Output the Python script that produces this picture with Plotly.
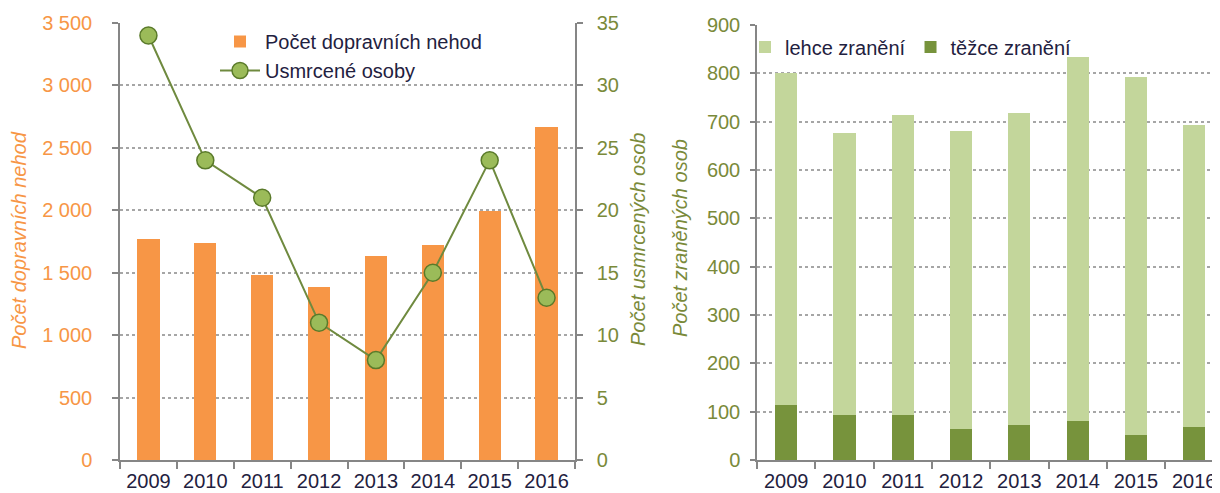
import plotly.graph_objects as go

years = ["2009", "2010", "2011", "2012", "2013", "2014", "2015", "2016"]
nehody = [1770, 1740, 1480, 1385, 1630, 1720, 1995, 2665]
usmrceni = [34, 24, 21, 11, 8, 15, 24, 13]
lehce = [686, 583, 621, 617, 645, 752, 740, 624]
tezce = [114, 93, 93, 64, 72, 81, 52, 69]

left_tickvals = [0, 500, 1000, 1500, 2000, 2500, 3000, 3500]
left_ticktext = ["0", "500", "1 000", "1 500", "2 000", "2 500", "3 000", "3 500"]
right_tickvals = [0, 5, 10, 15, 20, 25, 30, 35]
inj_tickvals = [0, 100, 200, 300, 400, 500, 600, 700, 800, 900]

# page body has an 8px margin: the figure occupies screen x 8..1220, y 8..493
OFF = 8
W, H = 1220 - OFF, 493 - OFF
FONT = "Liberation Sans, Arial, sans-serif"
ORANGE = "#F79646"
OLIVE_TXT = "#7A8A3A"
DARK_TXT = "#1F2140"
AXIS = "#868686"
GRID = "#A6A6A6"


def px_x(v):
    return (v - OFF) / W


def px_y(v):
    return (493 - v) / H


fig = go.Figure()

fig.add_trace(go.Bar(
    x=years, y=nehody, name="Počet dopravních nehod",
    marker=dict(color=ORANGE, line=dict(width=0)), width=0.39,
    xaxis="x", yaxis="y", legend="legend", legendrank=1,
))
fig.add_trace(go.Scatter(
    x=years, y=usmrceni, name="Usmrcené osoby", mode="lines+markers",
    line=dict(color="#6F8A3F", width=2),
    marker=dict(size=17, color="#9BBB59", line=dict(color="#5A7A2A", width=1.5)),
    xaxis="x", yaxis="y2", legend="legend", legendrank=2,
))
fig.add_trace(go.Bar(
    x=years, y=tezce, name="těžce zranění",
    marker=dict(color="#77933C", line=dict(width=0)), width=0.38,
    xaxis="x2", yaxis="y3", legend="legend2", legendrank=2,
))
fig.add_trace(go.Bar(
    x=years, y=lehce, name="lehce zranění",
    marker=dict(color="#C3D69B", line=dict(width=0)), width=0.38,
    xaxis="x2", yaxis="y3", legend="legend2", legendrank=1,
))

ydom1 = [px_y(460), px_y(23)]
ydom3 = [px_y(460), px_y(25)]

xcommon = dict(
    type="category", showline=True, linecolor=AXIS, linewidth=1.5,
    ticks="outside", tickson="boundaries", ticklen=7, tickcolor=AXIS, tickwidth=1.5,
    tickfont=dict(family=FONT, size=20, color=DARK_TXT), showgrid=False,
    zeroline=False, fixedrange=True, automargin=False, ticklabelstandoff=2,
)

R_START = 757
CAT_W = 58.3

fig.update_layout(
    width=W, height=H,
    margin=dict(l=0, r=0, t=0, b=0, pad=0, autoexpand=False),
    paper_bgcolor="white", plot_bgcolor="white",
    barmode="stack", bargap=0.6,
    font=dict(family=FONT, size=20, color=DARK_TXT),
    xaxis=dict(domain=[px_x(120), px_x(575)], range=[-0.5, 7.5], anchor="y", **xcommon),
    yaxis=dict(
        domain=ydom1, range=[0, 3500], anchor="x",
        tickvals=left_tickvals, ticktext=left_ticktext,
        tickfont=dict(family=FONT, size=20, color=ORANGE),
        showline=True, linecolor=AXIS, linewidth=1.5,
        ticks="outside", ticklen=6, tickcolor=AXIS, tickwidth=1.5,
        ticklabelstandoff=16, automargin=False,
        showgrid=True, gridcolor=GRID, griddash="dot", gridwidth=1.5,
        zeroline=False,
    ),
    yaxis2=dict(
        domain=ydom1, range=[0, 35], overlaying="y", side="right", anchor="x",
        tickvals=right_tickvals,
        tickfont=dict(family=FONT, size=20, color=OLIVE_TXT),
        showline=True, linecolor=AXIS, linewidth=1.5,
        ticks="outside", ticklen=6, tickcolor=AXIS, tickwidth=1.5,
        ticklabelstandoff=10, automargin=False,
        showgrid=False, zeroline=False,
    ),
    xaxis2=dict(domain=[px_x(R_START), 1.0], range=[-0.5, -0.5 + (1220 - R_START) / CAT_W],
                anchor="y3", **xcommon),
    yaxis3=dict(
        domain=ydom3, range=[0, 900], anchor="x2",
        tickvals=inj_tickvals,
        tickfont=dict(family=FONT, size=20, color=OLIVE_TXT),
        showline=True, linecolor=AXIS, linewidth=1.5,
        ticks="outside", ticklen=5, tickcolor=AXIS, tickwidth=1.5,
        ticklabelstandoff=6, automargin=False,
        showgrid=True, gridcolor=GRID, griddash="dot", gridwidth=1.5,
        zeroline=False,
    ),
    legend=dict(
        x=px_x(215), y=px_y(22), xanchor="left", yanchor="top",
        bgcolor="rgba(0,0,0,0)", font=dict(family=FONT, size=20, color=DARK_TXT),
        tracegroupgap=0, itemwidth=40, orientation="v", traceorder="normal",
    ),
    legend2=dict(
        x=px_x(745), y=px_y(47), xanchor="left", yanchor="middle",
        bgcolor="rgba(0,0,0,0)", font=dict(family=FONT, size=20, color=DARK_TXT),
        orientation="h", itemwidth=30, traceorder="normal",
    ),
    showlegend=True,
    annotations=[
        dict(text="<i>Počet dopravních nehod</i>", x=px_x(19), y=px_y(240), xref="paper", yref="paper",
             xanchor="center", yanchor="middle",
             textangle=-90, showarrow=False, font=dict(family=FONT, size=20, color=ORANGE)),
        dict(text="<i>Počet usmrcených osob</i>", x=px_x(638), y=px_y(240), xref="paper", yref="paper",
             xanchor="center", yanchor="middle",
             textangle=-90, showarrow=False, font=dict(family=FONT, size=20, color=OLIVE_TXT)),
        dict(text="<i>Počet zraněných osob</i>", x=px_x(680), y=px_y(238), xref="paper", yref="paper",
             xanchor="center", yanchor="middle",
             textangle=-90, showarrow=False, font=dict(family=FONT, size=20, color=OLIVE_TXT)),
    ],
)

fig.write_html("out.html")
